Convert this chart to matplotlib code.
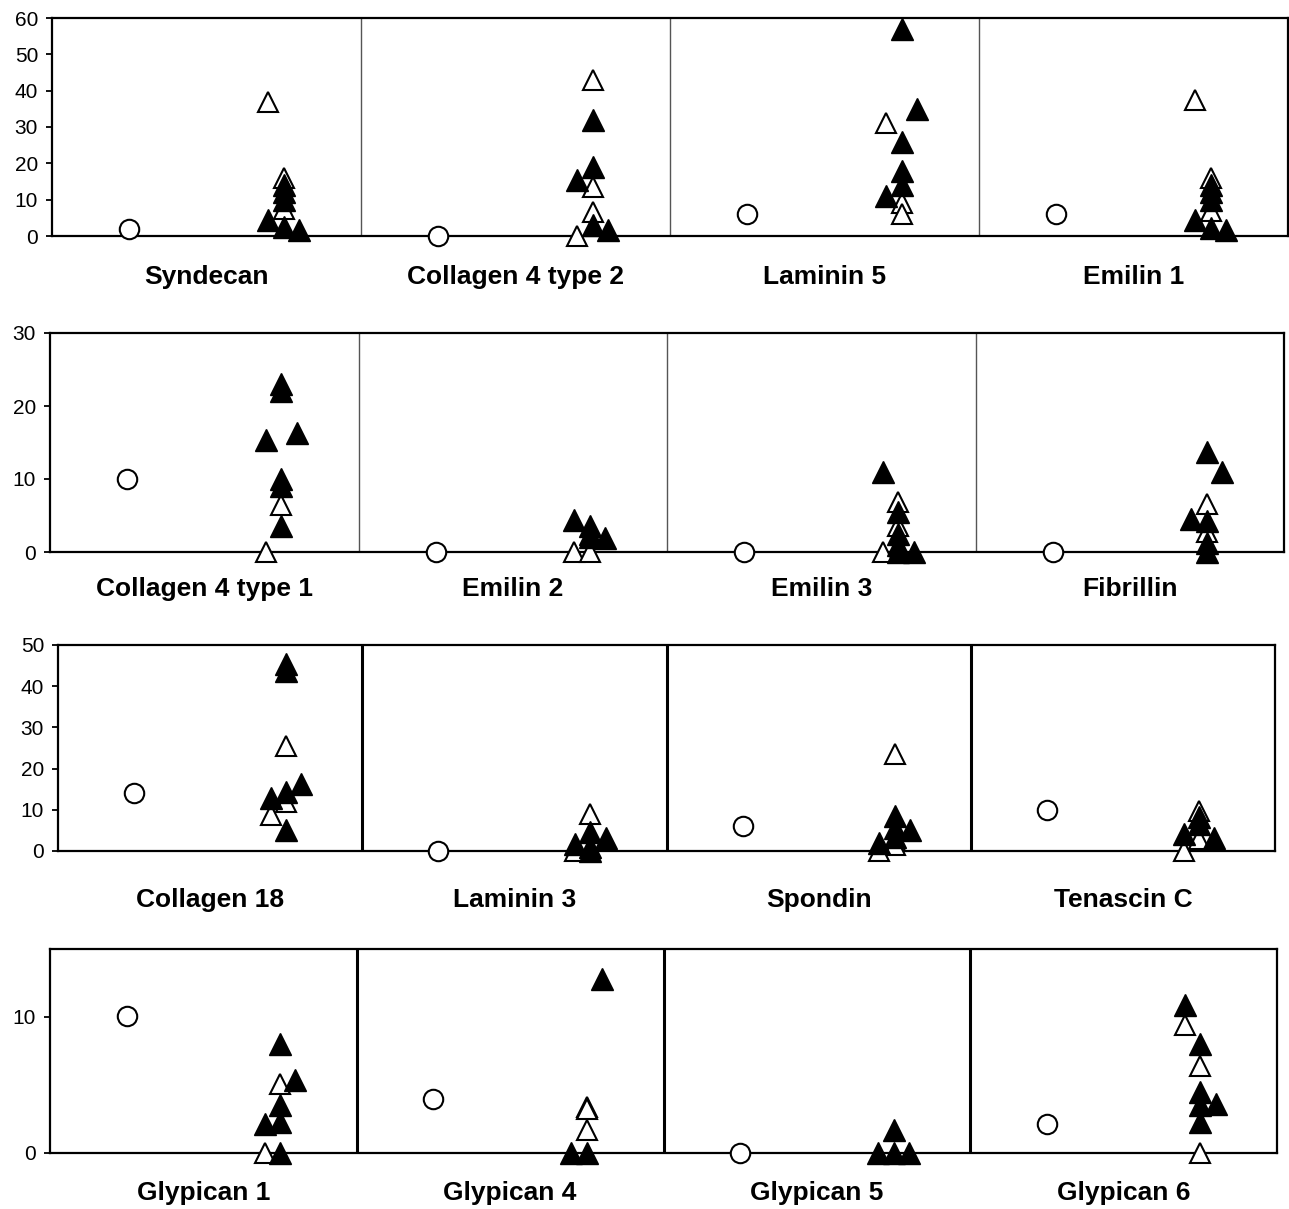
import matplotlib
matplotlib.use("Agg")
import matplotlib.pyplot as plt

plt.rcParams['font.family'] = ['Liberation Sans', 'DejaVu Sans']

# panel names, in reading order (4 rows x 4 panels)
labels = ["Syndecan", "Collagen 4 type 2", "Laminin 5", "Emilin 1",
          "Collagen 4 type 1", "Emilin 2", "Emilin 3", "Fibrillin",
          "Collagen 18", "Laminin 3", "Spondin", "Tenascin C",
          "Glypican 1", "Glypican 4", "Glypican 5", "Glypican 6"]

# open circle (left of each panel)
circle_vals = [2, 0, 6, 6,
               10, 0, 0, 0,
               14, 0, 6, 10,
               10.1, 4, 0, 2.1]

# filled triangles and their jitter slot (-1 left, 0 centre, 1 right)
filled_vals = [[14, 12, 10, 4.5, 2.4, 1.7],
               [32, 19, 15.5, 3, 1.6],
               [57, 35, 26, 18, 14, 11],
               [14, 12, 10, 4.5, 2.1, 1.6],
               [23, 22, 16.3, 15.3, 10, 9, 3.5],
               [4.4, 3.5, 2.5, 2, 1.9],
               [10.9, 5.5, 2.5, 1, 0, 0],
               [13.7, 10.9, 4.5, 4.3, 1.2, 0],
               [45.5, 43.8, 16.3, 14.4, 12.8, 5.1],
               [4.5, 3.2, 1.7, 1, 0],
               [8.5, 5.5, 5.1, 3.5, 1.9],
               [8.3, 6.5, 4.2, 3.2],
               [8, 5.4, 3.5, 2.3, 2.1, 0],
               [12.8, 0, 0],
               [1.7, 0, 0, 0],
               [10.9, 8, 4.5, 3.6, 3.5, 2.3]]
filled_slots = [[0, 0, 0, -1, 0, 1],
                [0, 0, -1, 0, 1],
                [0, 1, 0, 0, 0, -1],
                [0, 0, 0, -1, 0, 1],
                [0, 0, 1, -1, 0, 0, 0],
                [-1, 0, 0, 0, 1],
                [-1, 0, 0, 0, 0, 1],
                [0, 1, -1, 0, 0, 0],
                [0, 0, 1, 0, -1, 0],
                [0, 1, -1, 0, 0],
                [0, 0, 1, 0, -1],
                [0, 0, -1, 1],
                [0, 1, 0, 0, -1, 0],
                [1, -1, 0],
                [0, -1, 0, 1],
                [-1, 0, 0, 1, 0, 0]]

# open triangles
open_vals = [[37, 16, 7.5],
             [43, 13.5, 6.5, 0],
             [31, 9, 6],
             [37.5, 16, 7],
             [6.5, 0],
             [0, 0],
             [6.8, 3.6, 0],
             [6.6, 2.8],
             [25.4, 12, 8.7],
             [9, 0],
             [23.6, 2.5, 1.5, 0],
             [9.8, 3, 0],
             [5.1, 0],
             [3.4, 3.2, 1.7],
             [],
             [9.4, 6.4, 0]]
open_slots = [[-1, 0, 0],
              [0, 0, 0, -1],
              [-1, 0, 0],
              [-1, 0, 0],
              [0, -1],
              [-1, 0],
              [0, 0, -1],
              [0, 0],
              [0, 0, -1],
              [0, -1],
              [0, 0, 0, -1],
              [0, 0, -1],
              [0, -1],
              [0, 0, 0],
              [],
              [-1, 0, 0]]

# y scale of each row
row_ymax = [60, 30, 50, 15]
row_ticks = [range(0, 61, 10), range(0, 31, 10), range(0, 51, 10), [0, 10]]

W, H = 1289, 1209
# axes box in pixels: left, right, top, bottom (zero line)
row_box = [(52, 1288, 18, 236),
           (50, 1284, 333, 552),
           (58, 1275, 645, 851),
           (50, 1277, 949, 1153)]
label_drop = [41, 37, 49, 40]
divider_style = [dict(color='#555555', lw=1.0), dict(color='#555555', lw=1.0),
                 dict(color='black', lw=2.2), dict(color='black', lw=2.2)]

fig = plt.figure(figsize=(W / 100, H / 100), dpi=100)

for r in range(4):
    l, rt, t, b = row_box[r]
    ax = fig.add_axes([l / W, 1 - b / H, (rt - l) / W, (b - t) / H])
    ax.set_xlim(0, 8)
    ax.set_ylim(0, row_ymax[r])
    ax.set_yticks(list(row_ticks[r]))
    ax.tick_params(axis='y', length=4, width=1.3, pad=6, labelsize=15)
    ax.set_xticks([])
    for s in ax.spines.values():
        s.set_linewidth(1.6)
        s.set_color('black')
    for d in (2, 4, 6):
        ax.axvline(d, zorder=1, **divider_style[r])

    for p in range(4):
        i = r * 4 + p
        x0 = 2 * p
        ax.plot([x0 + 0.5], [circle_vals[i]], 'o', ms=14, mfc='white',
                mec='black', mew=1.5, clip_on=False, zorder=3)
        xs = [x0 + 1.5 + 0.1 * s for s in open_slots[i]]
        ax.plot(xs, open_vals[i], '^', ls='none', ms=15, mfc='white',
                mec='black', mew=1.5, clip_on=False, zorder=4)
        xs = [x0 + 1.5 + 0.1 * s for s in filled_slots[i]]
        ax.plot(xs, filled_vals[i], '^', ls='none', ms=15.5, mfc='black',
                mec='black', mew=1.0, clip_on=False, zorder=5)
        ax.annotate(labels[i], xy=(x0 + 1, 0), xycoords=('data', 'axes fraction'),
                    xytext=(0, -label_drop[r]), textcoords='offset pixels',
                    ha='center', va='center', fontsize=19, fontweight='bold')

fig.savefig("out.png", dpi=100)
